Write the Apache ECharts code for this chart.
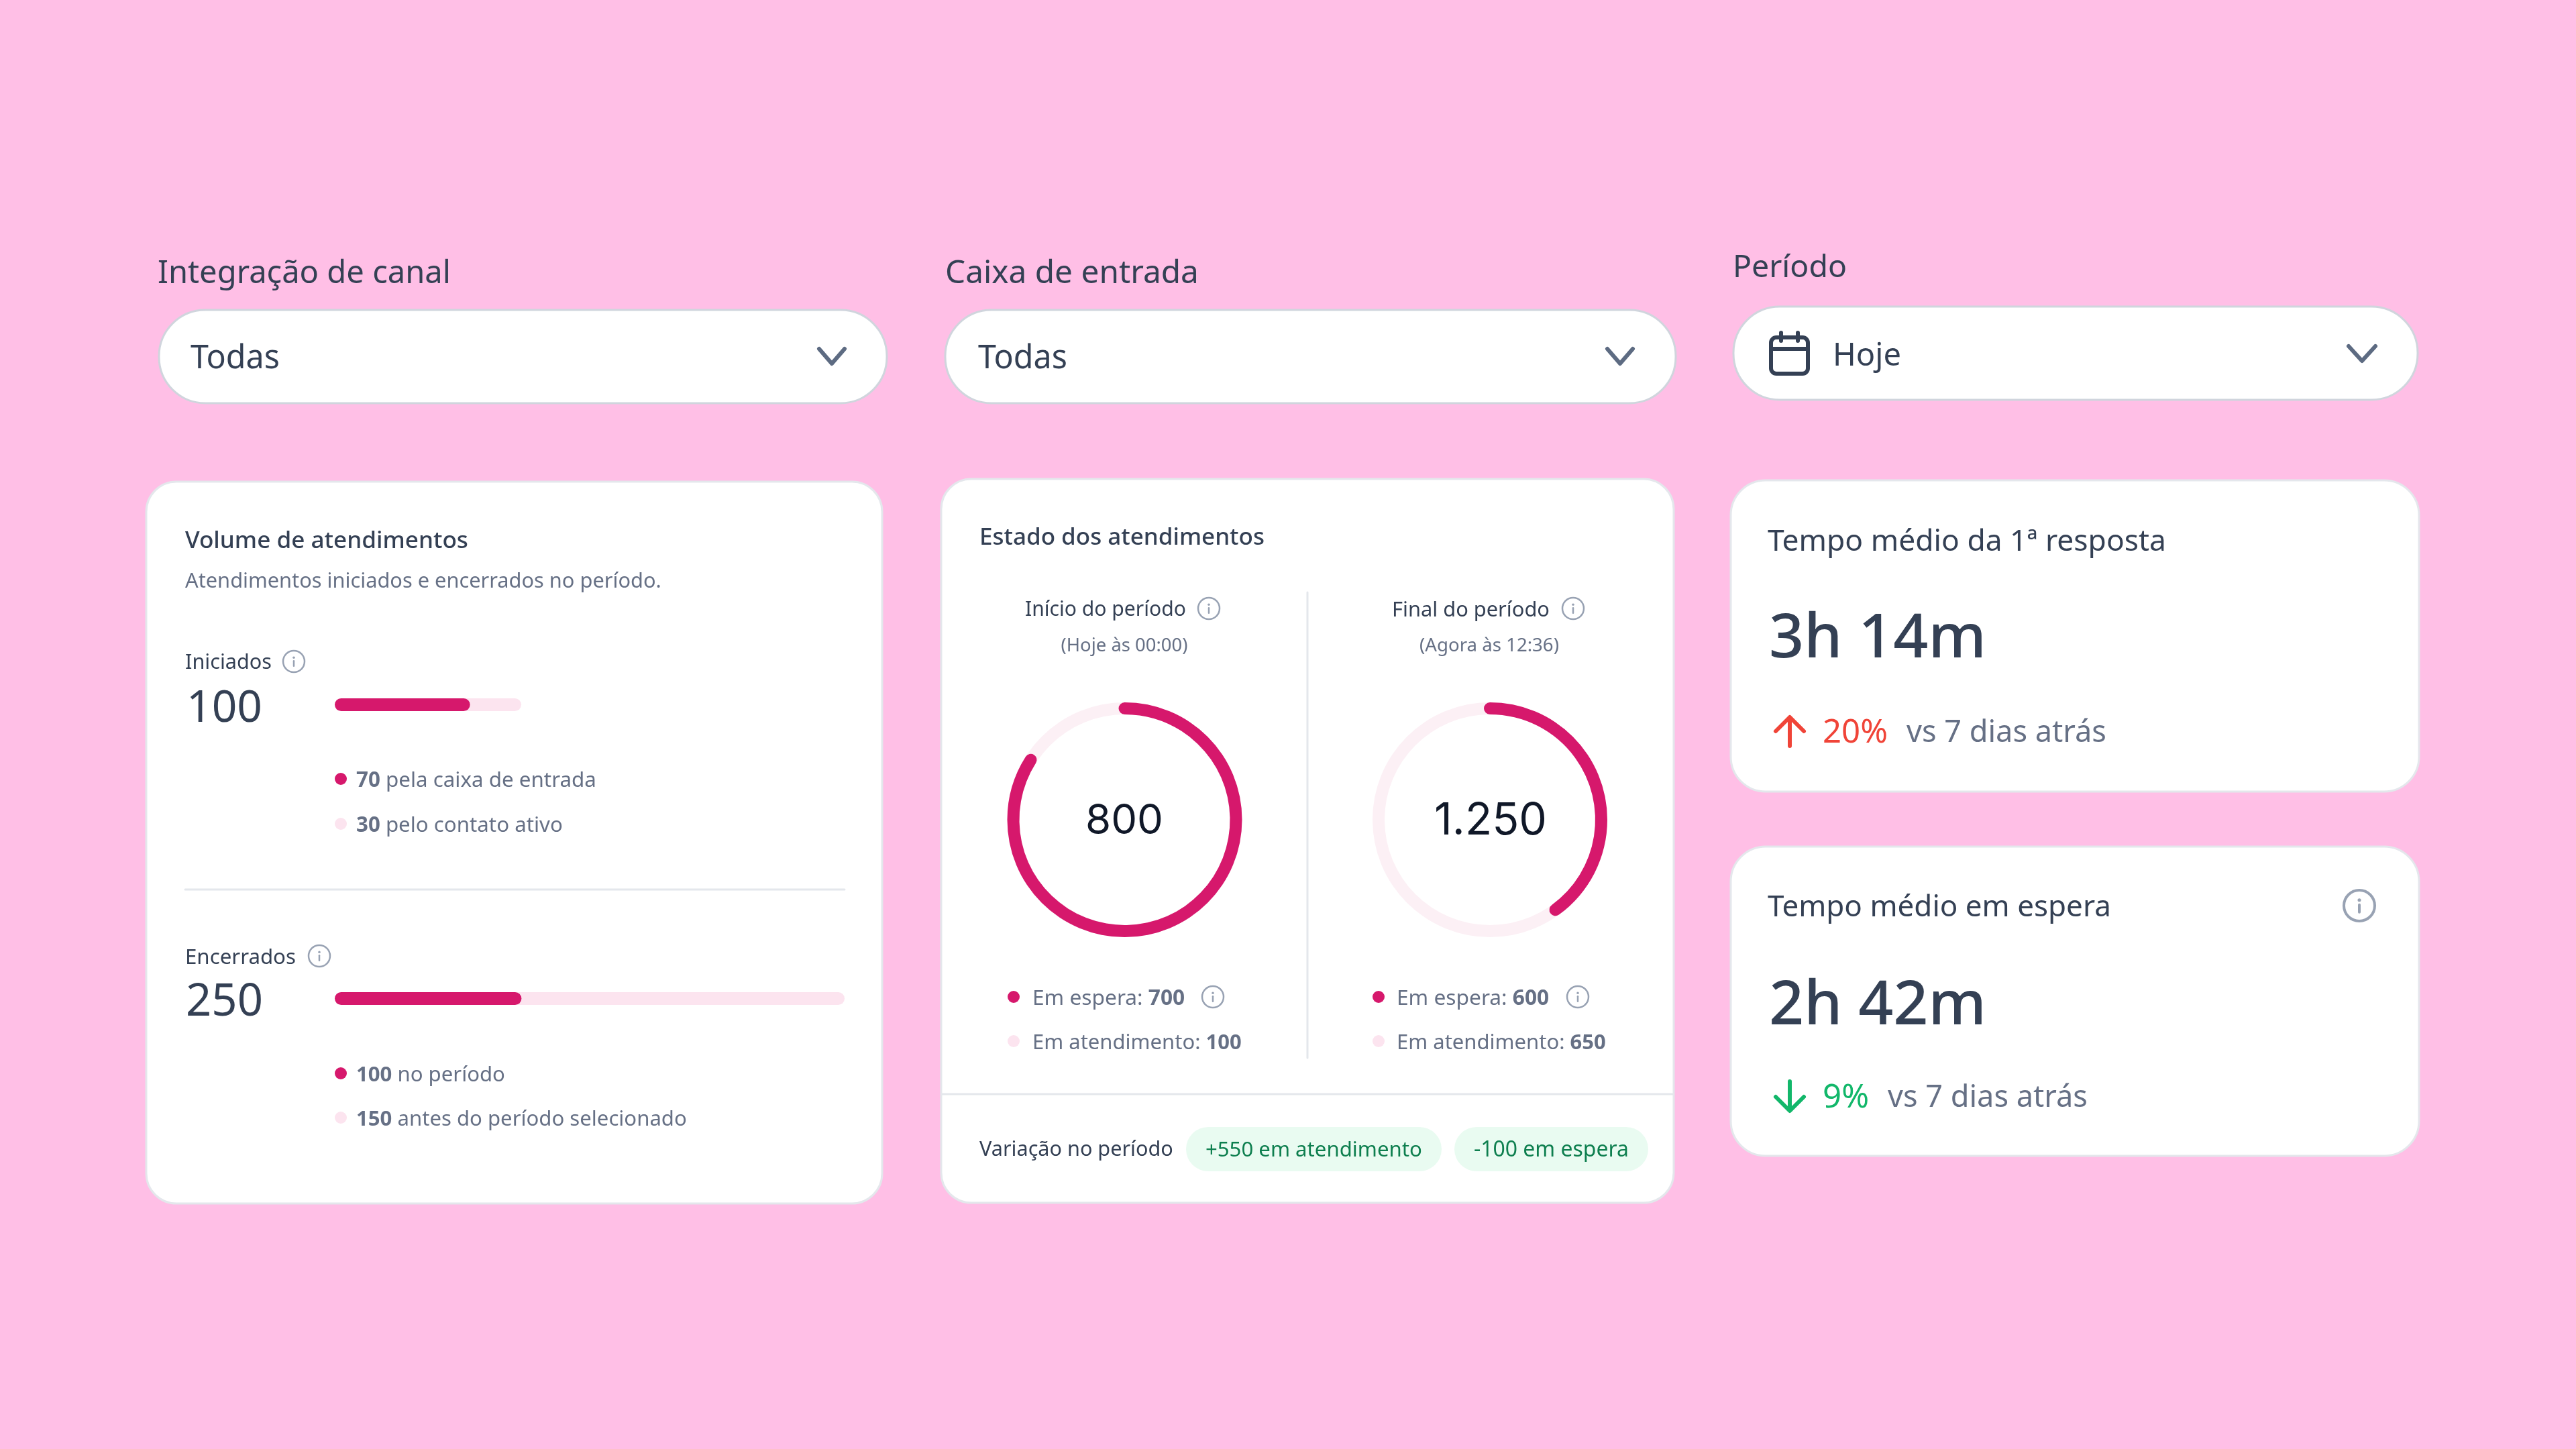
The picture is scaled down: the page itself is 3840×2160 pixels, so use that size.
<!DOCTYPE html>
<html><head><meta charset="utf-8">
<style>html,body{margin:0;padding:0;background:#FFBFE6}#c{width:3840px;height:2160px}</style>
<script src="https://cdn.jsdelivr.net/npm/echarts@6/dist/echarts.min.js"></script>
</head><body><div id="c"></div>
<script>
// ---- data ----
const iniciadosTotal = 100;
const iniciadosParts = [70, 30];
const encerradosTotal = 250;
const encerradosParts = [100, 150];
const inicioTotal = '800';
const inicioValues = [700, 100];
const finalTotal = '1.250';
const finalValues = [600, 650];
const fillLabels = ['pela caixa de entrada', 'pelo contato ativo', 'no período', 'antes do período selecionado'];
const tempoResposta = '3h 14m';
const tempoEspera = '2h 42m';
const variacao = ['+550 em atendimento', '-100 em espera'];

const PINK = '#D6186C', LIGHT = '#FCE4EF', RING = '#FCF0F5';
const DARK = '#344054', GRAY = '#667085', ICON = '#98A2B3', LINE = '#E4E7EC';
const SANS = '"Noto Sans"', INTER = 'Inter';

const ctx = document.createElement('canvas').getContext('2d');
function fit(str, width, weight, fam) {
  ctx.font = weight + ' 100px ' + fam;
  return 100 * width / ctx.measureText(str).width;
}
const G = [];
function T(str, x, y, width, color, o) {
  o = o || {};
  const weight = o.weight || 400, fam = o.fam || SANS;
  const s = o.size || fit(str, width, weight, fam);
  G.push({type:'text', z:5, style:{text:str, x:x, y:y + s*(fam===SANS?0.09:0.05), fill:color, fontFamily:fam, fontWeight:weight,
    fontSize:s, align:o.align||'left', verticalAlign:'middle'}});
}
function B(num, rest, x, y, width, color) {
  // bold number + regular text
  ctx.font = '700 100px ' + SANS; const a = ctx.measureText(num).width;
  ctx.font = '400 100px ' + SANS; const b = ctx.measureText(rest).width;
  const s = 100 * width / (a + b);
  G.push({type:'text', z:5, style:{text:'{b|'+num+'}{r|'+rest+'}', x:x, y:y+s*0.09, verticalAlign:'middle', align:'left',
    rich:{b:{fontFamily:SANS,fontWeight:700,fontSize:s,fill:color}, r:{fontFamily:SANS,fontWeight:400,fontSize:s,fill:color}}}});
}
function R(x0,y0,x1,y1,r,fill,stroke,lw){
  G.push({type:'rect', z:1, shape:{x:x0,y:y0,width:x1-x0,height:y1-y0,r:r}, style:{fill:fill,stroke:stroke||null,lineWidth:lw||0}});
}
function L(pts,color,lw){
  G.push({type:'polyline', z:3, shape:{points:pts}, style:{stroke:color,lineWidth:lw,fill:null,lineCap:'round',lineJoin:'round'}});
}
function dot(x,y,r,color){ G.push({type:'circle', z:3, shape:{cx:x,cy:y,r:r}, style:{fill:color}}); }
function info(x,y,r,lw){
  G.push({type:'circle', z:3, shape:{cx:x,cy:y,r:r}, style:{fill:null,stroke:ICON,lineWidth:lw||2.5}});
  dot(x,y-r*0.36,r*0.11,ICON);
  L([[x,y-r*0.05],[x,y+r*0.42]],ICON,lw||2.5);
}
function chevron(cx,cy,w,h){ L([[cx-w/2,cy-h/2],[cx,cy+h/2],[cx+w/2,cy-h/2]],'#5D6B82',6); }

// filter labels and selects
T('Integração de canal',235,404,437,DARK);
T('Caixa de entrada',1409,404,378,DARK);
T('Período',2583,396,170,DARK);
R(237,462,1322,601,69,'#fff','#D0D5DD',3);
R(1409,462,2498,601,69,'#fff','#D0D5DD',3);
R(2584,457,3604,596,69,'#fff','#D0D5DD',3);
T('Todas',284,531,133,DARK);
T('Todas',1458,531,133,DARK);
T('Hoje',2732,527,102,DARK);
chevron(1240,531,38,22);
chevron(2415,531,38,22);
chevron(3521,527,40,22);
G.push({type:'rect', z:3, shape:{x:2640,y:503,width:55,height:54,r:8}, style:{fill:null,stroke:DARK,lineWidth:6}});
L([[2640,520],[2695,520]],DARK,6);
L([[2655,496],[2655,508]],DARK,6);
L([[2680,496],[2680,508]],DARK,6);

// cards
R(218,718,1315,1794,45,'#fff',LINE,3);
R(1403,714,2495,1793,45,'#fff',LINE,3);
R(2580,716,3606,1180,52,'#fff',LINE,3);
R(2580,1262,3606,1723,52,'#fff',LINE,3);

// volume card
T('Volume de atendimentos',276,804,422,DARK,{weight:500});
T('Atendimentos iniciados e encerrados no período.',276,864,710,GRAY);
T('Iniciados',276,986,129,DARK);
info(438,986,16);
T(String(iniciadosTotal),278,1051,113,DARK);
dot(508,1161,9,PINK); B(String(iniciadosParts[0]),' '+fillLabels[0],531,1161,358,GRAY);
dot(508,1228,9,LIGHT); B(String(iniciadosParts[1]),' '+fillLabels[1],531,1228,308,GRAY);
L([[276,1326],[1259,1326]],LINE,3);
T('Encerrados',276,1425,165,DARK);
info(476,1425,16);
T(String(encerradosTotal),277,1489,115,DARK);
dot(508,1600,9,PINK); B(String(encerradosParts[0]),' '+fillLabels[2],531,1600,222,GRAY);
dot(508,1666,9,LIGHT); B(String(encerradosParts[1]),' '+fillLabels[3],531,1666,493,GRAY);

// state card
T('Estado dos atendimentos',1460,799,425,DARK,{weight:500});
T('Início do período',1528,907,240,DARK);
info(1802,907,16);
T('(Hoje às 00:00)',1676,961,189,GRAY,{align:'center'});
T('Final do período',2075,907,235,DARK);
info(2345,907,16);
T('(Agora às 12:36)',2220,961,208,GRAY,{align:'center'});
L([[1949,883],[1949,1577]],LINE,3);
T(inicioTotal,1676,1221,116,'#101828',{align:'center',fam:INTER});
T(finalTotal,2222,1221,168,'#101828',{align:'center',fam:INTER});
function stateLegend(dotx,textx,wa,wb,vals,iconx){
  dot(dotx,1486,9,PINK);
  dot(dotx,1552,9,LIGHT);
  G.push({type:'text',z:5,style:{text:'{r|Em espera: }{b|'+vals[0]+'}',x:textx,y:1489,verticalAlign:'middle',
    rich:{b:{fontFamily:SANS,fontWeight:700,fontSize:wa,fill:GRAY},r:{fontFamily:SANS,fontSize:wa,fill:GRAY}}}});
  G.push({type:'text',z:5,style:{text:'{r|Em atendimento: }{b|'+vals[1]+'}',x:textx,y:1555,verticalAlign:'middle',
    rich:{b:{fontFamily:SANS,fontWeight:700,fontSize:wb,fill:GRAY},r:{fontFamily:SANS,fontSize:wb,fill:GRAY}}}});
  info(iconx,1486,16);
}
stateLegend(1511,1539,31.7,31,inicioValues,1808);
stateLegend(2055,2082,31.7,31,finalValues,2352);
L([[1404,1631],[2494,1631]],LINE,3);
T('Variação no período',1460,1712,289,DARK);
G.push({type:'rect',z:2,shape:{x:1768,y:1680,width:381,height:66,r:33},style:{fill:'#E9FBF1'}});
G.push({type:'rect',z:2,shape:{x:2168,y:1680,width:289,height:66,r:33},style:{fill:'#E9FBF1'}});
T(variacao[0],1797,1712,323,'#0E7F4F');
T(variacao[1],2197,1712,231,'#0E7F4F');

// time cards
T('Tempo médio da 1ª resposta',2635,804,594,DARK);
T(tempoResposta,2637,946,324,DARK,{weight:500});
L([[2668,1112],[2668,1071]],'#F04438',6);
L([[2647,1090],[2668,1069],[2689,1090]],'#F04438',6);
T('20%',2717,1089,97,'#F04438');
T('vs 7 dias atrás',2842,1089,298,GRAY);
T('Tempo médio em espera',2635,1350,512,DARK);
info(3517,1350,23,4);
T(tempoEspera,2637,1493,324,DARK,{weight:500});
L([[2668,1612],[2668,1654]],'#12B76A',6);
L([[2647,1635],[2668,1656],[2689,1635]],'#12B76A',6);
T('9%',2717,1633,69,'#12B76A');
T('vs 7 dias atrás',2814,1633,298,GRAY);

// bars: track and fill each on their own hidden axis
function hiddenX(grid,max){ return {type:'value',gridIndex:grid,min:0,max:max,show:false}; }
function hiddenY(grid){ return {type:'category',gridIndex:grid,data:[''],show:false}; }
function barS(idx,val,color,z){
  return {type:'bar',xAxisIndex:idx,yAxisIndex:idx<2?0:1,data:[val],barWidth:19,barGap:'-100%',z:z,silent:true,
    itemStyle:{color:color,borderRadius:9.5}};
}
function gauge(cx,cy,val,max){
  return {type:'gauge',center:[cx,cy],radius:175,startAngle:90,endAngle:-270,min:0,max:max,clockwise:true,z:4,silent:true,
    progress:{show:true,width:18,roundCap:true,itemStyle:{color:PINK}},
    axisLine:{lineStyle:{width:18,color:[[1,RING]]}},
    pointer:{show:false},axisTick:{show:false},splitLine:{show:false},axisLabel:{show:false},title:{show:false},detail:{show:false},
    data:[{value:val}]};
}
const chart = echarts.init(document.getElementById('c'),null,{width:3840,height:2160});
chart.setOption({
  animation:false,
  backgroundColor:'#FFBFE6',
  grid:[{left:499,top:1041,width:278,height:19},{left:499,top:1479,width:760,height:19}],
  xAxis:[hiddenX(0,iniciadosTotal),hiddenX(0,96.5),hiddenX(1,encerradosTotal),hiddenX(1,273)],
  yAxis:[hiddenY(0),hiddenY(1)],
  graphic:G,
  series:[
    barS(0,iniciadosTotal,LIGHT,2),
    barS(1,iniciadosParts[0],PINK,3),
    barS(2,encerradosTotal,LIGHT,2),
    barS(3,encerradosParts[0],PINK,3),
    gauge(1676.5,1222,inicioValues[0],833),
    gauge(2221,1222,finalValues[0],1500)
  ]
});
</script></body></html>
